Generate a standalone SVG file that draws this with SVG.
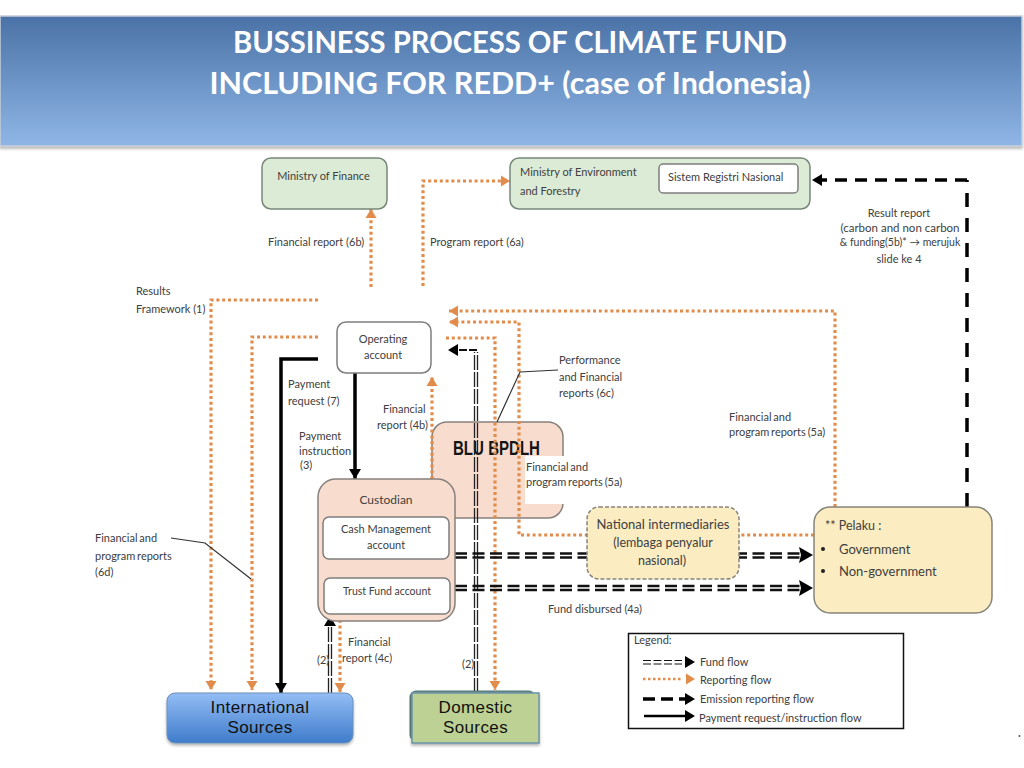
<svg xmlns="http://www.w3.org/2000/svg" width="1024" height="768" viewBox="0 0 1024 768">
<style>
text{font-family:"Lato","Open Sans","Liberation Sans",sans-serif;font-size:11px;fill:#404040}
.c{text-anchor:middle}
.title{font-size:29.500px;font-weight:700;fill:#fff}
.src{font-family:"Liberation Sans",sans-serif;font-size:17px;letter-spacing:0.400px;fill:#111}
.tight{word-spacing:-1px}
.green{fill:#dcebd5;stroke:#76877a;stroke-width:1.5}
.white{fill:#fff;stroke:#7d7d7d;stroke-width:1.5}
.peach{fill:#f8ddce;stroke:#86807c;stroke-width:1.5}
.yellow{fill:#fbecc1;stroke:#86847a;stroke-width:1.5}
.rep{fill:none;stroke:#e28c4c;stroke-width:3.2;stroke-dasharray:3 2.8}
.fund{fill:none;stroke:#111;stroke-width:2.400;stroke-dasharray:12 5.500}
.fundv{fill:none;stroke:#222;stroke-width:1.300;stroke-dasharray:15 2}
.em{fill:none;stroke:#000;stroke-width:3.500}
.pay{fill:none;stroke:#000;stroke-width:3.500}
.call{fill:none;stroke:#333;stroke-width:1.200}
</style>
<defs>
<linearGradient id="bar" x1="0" y1="0" x2="0" y2="1"><stop offset="0" stop-color="#4a72a6"/><stop offset="1" stop-color="#8fb6e6"/></linearGradient>
<linearGradient id="intl" x1="0" y1="0" x2="0" y2="1"><stop offset="0" stop-color="#93bdf5"/><stop offset="1" stop-color="#3f7ccb"/></linearGradient>
<marker id="ao" markerUnits="userSpaceOnUse" markerWidth="14" markerHeight="14" refX="9" refY="6" orient="auto"><path d="M0 0.500L9 6L0 11.500Z" fill="#e28c4c"/></marker>
<marker id="ak" markerUnits="userSpaceOnUse" markerWidth="14" markerHeight="14" refX="10" refY="6" orient="auto"><path d="M0 0L10 6L0 12Z" fill="#000"/></marker>
<marker id="ab" markerUnits="userSpaceOnUse" markerWidth="18" markerHeight="18" refX="14" refY="8" orient="auto"><path d="M0 0L14 8L0 16L2 8Z" fill="#000"/></marker>
<filter id="sh" x="-5%" y="-5%" width="110%" height="115%"><feDropShadow dx="0" dy="2" stdDeviation="1.500" flood-color="#000" flood-opacity="0.3"/></filter>
</defs>
<rect width="1024" height="768" fill="#fff"/>

<g id="title-bar">
<rect x="0" y="16" width="1022" height="130" fill="url(#bar)" stroke="#c8ced6" stroke-width="1.500" filter="url(#sh)"/>
<text class="title c" x="510" y="53" textLength="554" lengthAdjust="spacingAndGlyphs">BUSSINESS PROCESS OF CLIMATE FUND</text>
<text class="title c" x="510" y="94" textLength="601" lengthAdjust="spacingAndGlyphs">INCLUDING FOR REDD+ (case of Indonesia)</text>
</g>

<g id="blu-bpdlh">
<rect x="432" y="422" width="131" height="96" rx="15" class="peach"/>
<text x="453" y="455" font-weight="700" style="font-family:'Liberation Sans Narrow','Liberation Sans',sans-serif;font-size:21px;fill:#151515" textLength="87" lengthAdjust="spacingAndGlyphs">BLU BPDLH</text>
<rect x="525" y="456" width="100" height="48" fill="#fff"/>
</g>

<g id="connectors">
<path class="rep" d="M318 300H211V690" marker-end="url(#ao)"/>
<path class="rep" d="M318 337H252V690" marker-end="url(#ao)"/>
<path class="rep" d="M371 287V209" marker-end="url(#ao)"/>
<path class="rep" d="M423 286V181H510" marker-end="url(#ao)"/>
<path class="rep" d="M432 479V377" marker-end="url(#ao)"/>
<path class="rep" d="M835 507V311H449" marker-end="url(#ao)"/>
<path class="rep" d="M814 535H519V322H449" marker-end="url(#ao)"/>
<path class="rep" d="M446 338H495V690" marker-end="url(#ao)"/>
<path class="rep" d="M340 614V692" marker-end="url(#ao)"/>
<path class="pay" d="M318 359H281V693" marker-end="url(#ak)"/>
<path class="pay" d="M355 373V479" marker-end="url(#ak)"/>
<path class="em" d="M967 507V180" stroke-dasharray="14 11"/>
<path class="em" d="M967 180H812" stroke-dasharray="12 8" marker-end="url(#ak)"/>
<path class="fundv" d="M474.500 693V352M477.500 693V352"/>
<path class="fund" d="M477 350H458" style="stroke-dasharray:8 2;stroke-width:1.800"/>
<path d="M458 350H448" marker-end="url(#ak)" fill="none"/>
<path class="fund" d="M455 553.500H800M455 557.500H800"/>
<path d="M798 555H813" marker-end="url(#ab)" fill="none"/>
<path class="fund" d="M455 586H800M455 590H800"/>
<path d="M798 588H813" marker-end="url(#ab)" fill="none"/>
<path class="fundv" d="M328.500 693V625M331.500 693V625"/>
<path d="M330 630V616" marker-end="url(#ak)" fill="none"/>
<path class="fundv" d="M385.500 578V570M388.500 578V570" style="stroke-dasharray:none"/>
<path d="M387 570V560" marker-end="url(#ak)" fill="none"/>
<path class="call" d="M171 538L205 543L251 579"/>
<path class="call" d="M558 370L520 372L497 422"/>
</g>

<g id="ministry-finance">
<rect x="262" y="158" width="125" height="51" rx="9" class="green"/>
<text class="c" x="323.500" y="180">Ministry of Finance</text>
</g>
<g id="ministry-environment">
<rect x="510" y="158" width="300" height="51" rx="9" class="green"/>
<text x="520" y="176">Ministry of Environment</text>
<text x="520" y="195">and  Forestry</text>
</g>
<g id="registri">
<rect x="659" y="164" width="139" height="29" rx="4" class="white"/>
<text x="668" y="181">Sistem Registri Nasional</text>
</g>
<g id="operating-account">
<rect x="337" y="322" width="94" height="51" rx="9" class="white"/>
<text class="c" x="383" y="343">Operating</text>
<text class="c" x="383" y="359">account</text>
</g>
<g id="custodian">
<rect x="318" y="479" width="137" height="142" rx="18" class="peach"/>
<text class="c" x="386" y="504" style="font-size:12px">Custodian</text>
</g>
<g id="cash-management">
<rect x="323" y="517" width="126" height="42" rx="6" class="white"/>
<text class="c" x="386" y="533">Cash Management</text>
<text class="c" x="386" y="549">account</text>
</g>
<g id="trust-fund">
<rect x="324" y="578" width="126" height="36" rx="6" class="white"/>
<text class="c" x="387" y="595" style="font-size:10.500px">Trust Fund account</text>
</g>
<g id="international-sources">
<rect x="167" y="693" width="186" height="50" rx="8" fill="url(#intl)" stroke="#6b8fb8" filter="url(#sh)"/>
<text class="src c" x="260" y="712.500">International</text>
<text class="src c" x="260" y="732.500">Sources</text>
</g>
<g id="domestic-sources">
<rect x="410" y="691" width="125" height="50" rx="6" fill="#6d8a8a" stroke="#4f7676"/>
<rect x="412" y="693" width="127" height="50" fill="#bcd193" stroke="#6b93a8" stroke-width="1.500" filter="url(#sh)"/>
<text class="src c" x="475.500" y="712.500">Domestic</text>
<text class="src c" x="475.500" y="732.500">Sources</text>
</g>
<g id="national-intermediaries">
<rect x="587" y="507" width="152" height="72" rx="12" class="yellow" stroke-dasharray="4 2"/>
<text class="c" x="663" y="529" style="font-size:13px">National intermediaries</text>
<text class="c" x="663" y="547" style="font-size:12.500px">(lembaga penyalur</text>
<text class="c" x="662" y="565" style="font-size:12.500px">nasional)</text>
</g>
<g id="pelaku">
<rect x="814" y="507" width="178" height="106" rx="16" class="yellow"/>
<text x="825" y="530" style="font-size:12.500px">** Pelaku :</text>
<circle cx="823" cy="549" r="2" fill="#222"/>
<text x="839" y="554" style="font-size:13px">Government</text>
<circle cx="823" cy="571" r="2" fill="#222"/>
<text x="839" y="576" style="font-size:13px">Non-government</text>
</g>

<g id="labels">
<text x="268" y="246">Financial report  (6b)</text>
<text x="430" y="246">Program report  (6a)</text>
<text x="136" y="295">Results</text>
<text x="136" y="313">Framework (1)</text>
<text x="288" y="388">Payment</text>
<text x="288" y="405">request (7)</text>
<text x="299" y="440">Payment</text>
<text x="299" y="455">instruction</text>
<text x="300" y="469">(3)</text>
<text x="383" y="413">Financial</text>
<text x="377" y="429">report  (4b)</text>
<text class="tight" x="95" y="542">Financial and</text>
<text class="tight" x="95" y="560">program reports</text>
<text x="95" y="576">(6d)</text>
<text x="348" y="646">Financial</text>
<text x="342" y="662">report  (4c)</text>
<text x="317" y="664">(2)</text>
<text x="462" y="668">(2)</text>
<text x="559" y="364">Performance</text>
<text x="559" y="381">and Financial</text>
<text x="559" y="397">reports (6c)</text>
<text class="tight" x="526" y="471">Financial and</text>
<text class="tight" x="526" y="486">program reports (5a)</text>
<text class="tight" x="729" y="421">Financial and</text>
<text class="tight" x="729" y="436">program reports (5a)</text>
<text class="c" x="899" y="217">Result report</text>
<text class="c" x="900" y="232" style="font-size:11.500px">(carbon and non carbon</text>
<text class="c" x="900" y="246" style="font-size:10.500px">&amp; funding(5b)* → merujuk</text>
<text class="c" x="899" y="263">slide ke 4</text>
<text x="548" y="613">Fund disbursed  (4a)</text>
</g>

<g id="legend">
<rect x="628.500" y="633.500" width="275" height="95" fill="#fff" stroke="#111" stroke-width="1.500"/>
<text x="634" y="644">Legend:</text>
<path class="fund" d="M643 660.500H682M643 664H682" style="stroke-width:1.200;stroke-dasharray:8 2.500"/>
<path d="M682 662H695" marker-end="url(#ak)" fill="none"/>
<path class="rep" d="M643 679H682" style="stroke-width:2.500;stroke-dasharray:2.500 2.500"/>
<path d="M684 679H695" marker-end="url(#ao)" fill="none"/>
<path d="M643 699H686" fill="none" stroke="#000" stroke-width="3.500" stroke-dasharray="12 6"/>
<path d="M685 699H695" marker-end="url(#ak)" fill="none"/>
<path d="M644 716H686" fill="none" stroke="#000" stroke-width="2.500"/>
<path d="M685 716H695" marker-end="url(#ak)" fill="none"/>
<text x="700" y="666">Fund flow</text>
<text x="700" y="684">Reporting flow</text>
<text x="700" y="703">Emission reporting flow</text>
<text x="699" y="722">Payment request/instruction  flow</text>
</g>
<circle cx="1019.500" cy="736" r="1" fill="#555"/>
</svg>
